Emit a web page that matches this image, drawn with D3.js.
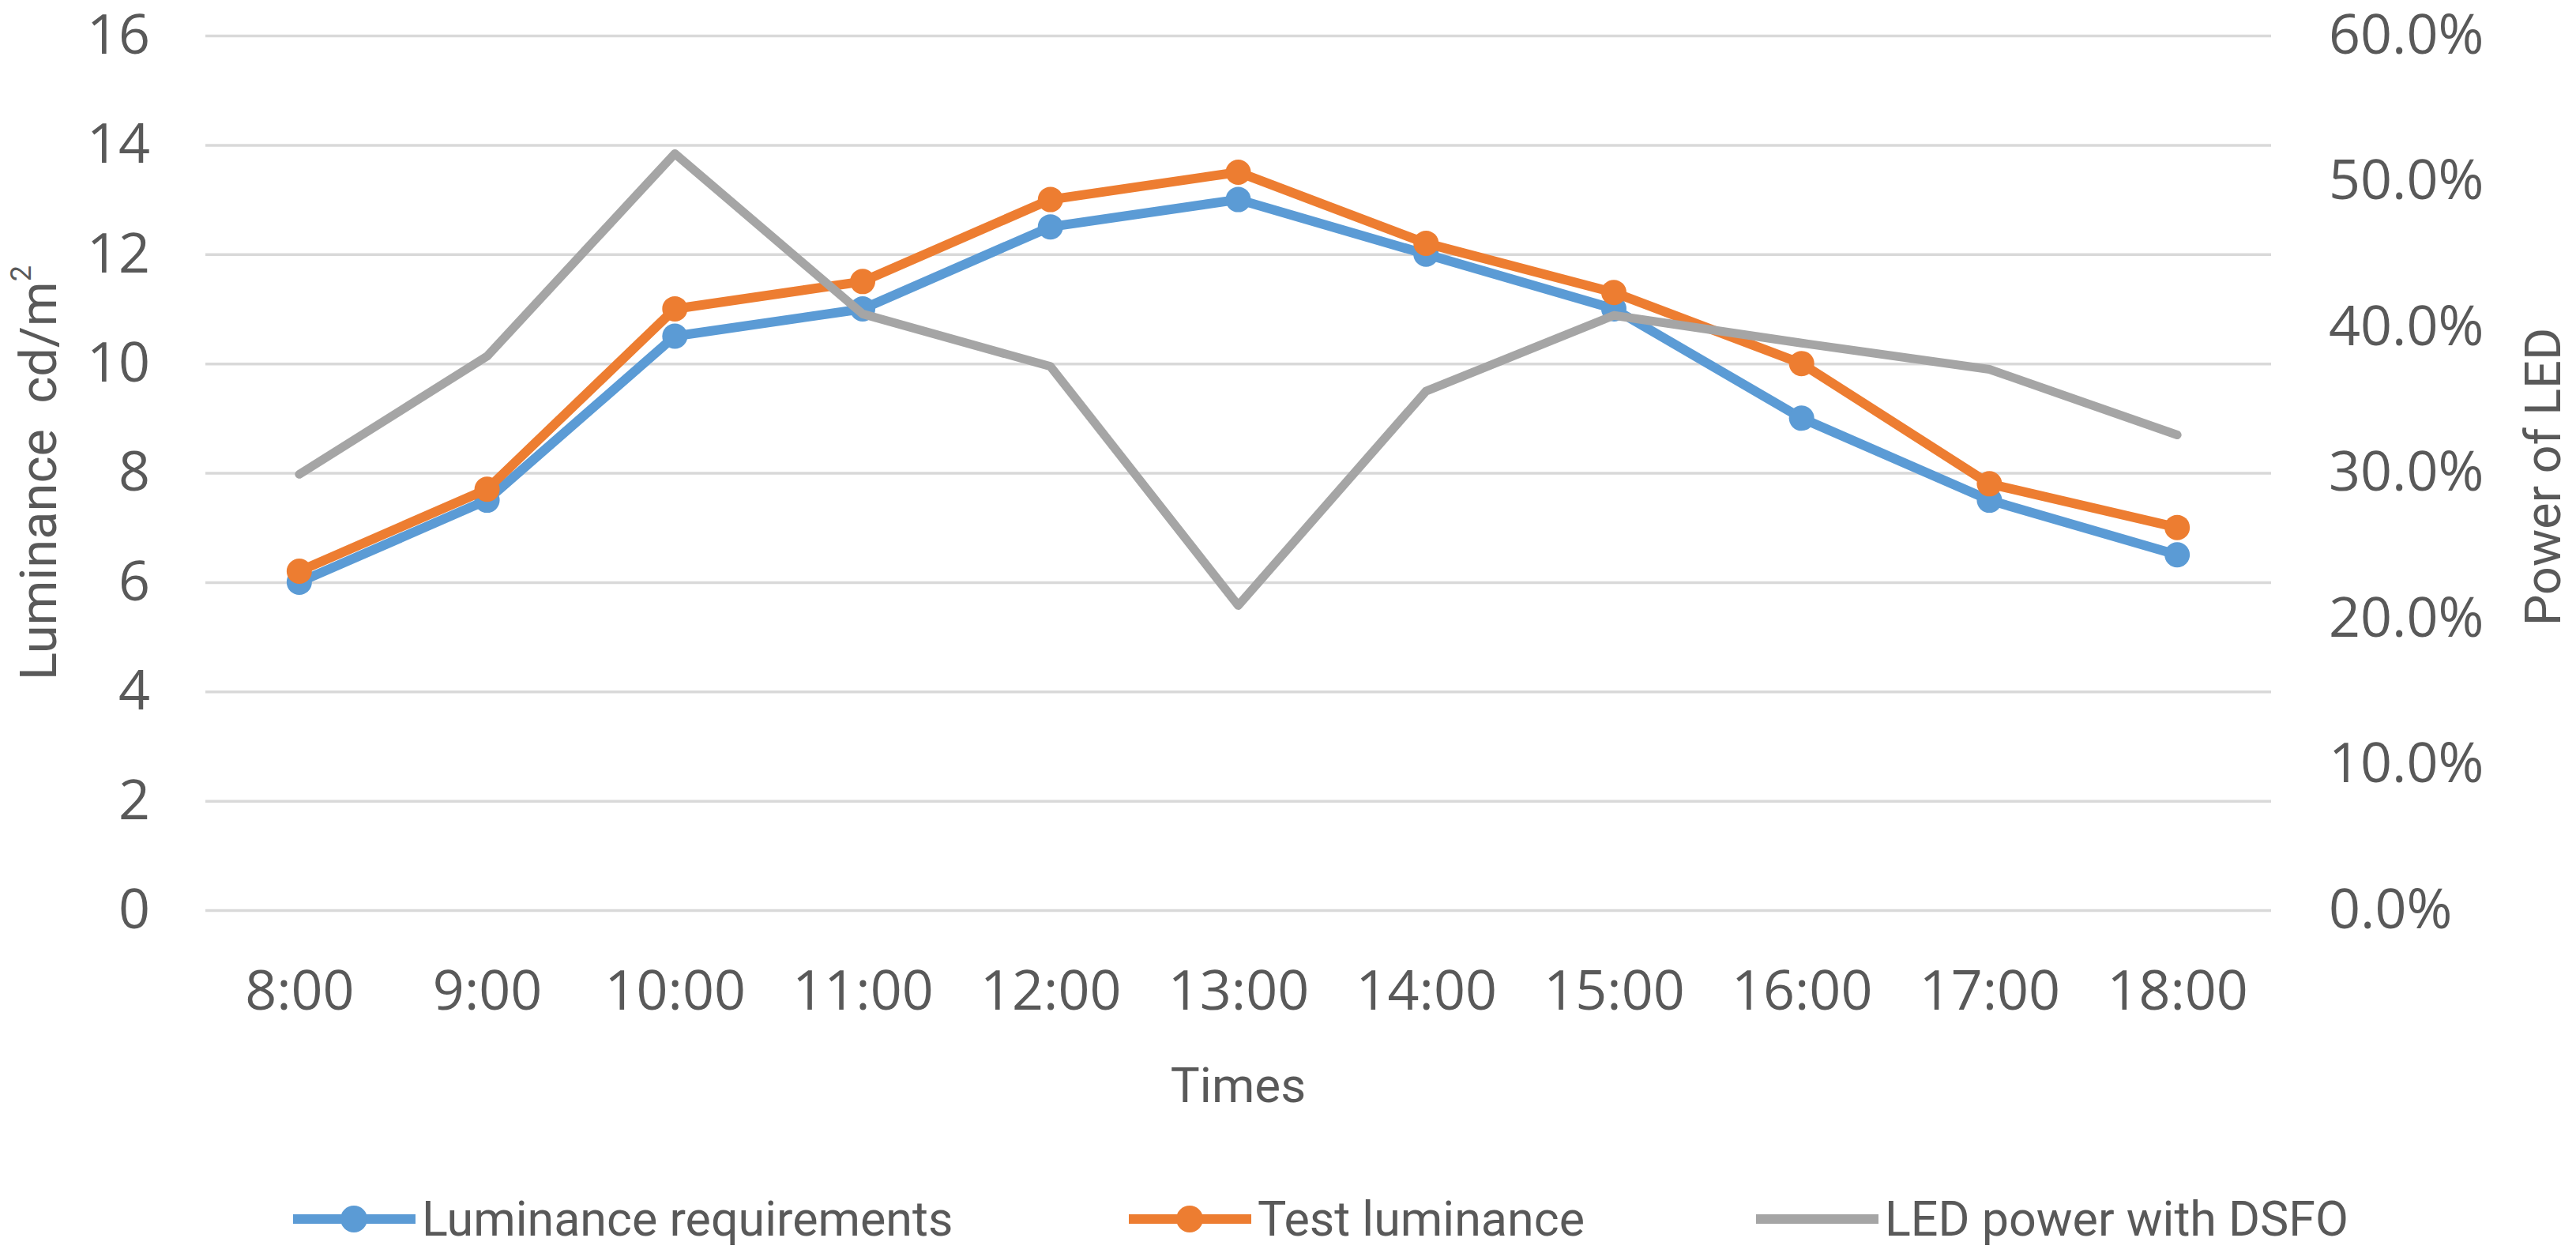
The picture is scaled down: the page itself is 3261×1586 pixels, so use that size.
<!DOCTYPE html>
<html>
<head>
<meta charset="utf-8">
<script src="https://cdn.jsdelivr.net/npm/d3@7"></script>
<style>
  html, body { margin: 0; padding: 0; background: #ffffff; }
  svg { display: block; }
</style>
</head>
<body>
<div id="chart"></div>
<script>
// ---- Data ----
const times = ["8:00", "9:00", "10:00", "11:00", "12:00", "13:00", "14:00", "15:00", "16:00", "17:00", "18:00"];
const luminanceRequirements = [6.0, 7.5, 10.5, 11.0, 12.5, 13.0, 12.0, 11.0, 9.0, 7.5, 6.5];
const testLuminance = [6.2, 7.7, 11.0, 11.5, 13.0, 13.5, 12.2, 11.3, 10.0, 7.8, 7.0];
const ledPower = [0.299, 0.380, 0.519, 0.409, 0.373, 0.209, 0.356, 0.408, 0.389, 0.371, 0.326];
const leftTicks = [0, 2, 4, 6, 8, 10, 12, 14, 16];
const rightTicks = [0, 0.1, 0.2, 0.3, 0.4, 0.5, 0.6];
const seriesNames = ["Luminance requirements", "Test luminance", "LED power with DSFO"];

// ---- Layout ----
const W = 3261, H = 1586;
const plot = { left: 260, right: 2875, top: 45, bottom: 1152 };
const colors = { blue: "#5B9BD5", orange: "#ED7D31", gray: "#A5A5A5", grid: "#D9D9D9", text: "#595959" };
const tickFont = "'Open Sans', sans-serif";
const titleFont = "Roboto, sans-serif";

const svg = d3.select("#chart").append("svg").attr("width", W).attr("height", H);
svg.append("rect").attr("width", W).attr("height", H).attr("fill", "#fff");

const x = d3.scalePoint().domain(times).range([plot.left, plot.right]).padding(0.5);
const yL = d3.scaleLinear().domain([0, 16]).range([plot.bottom, plot.top]);
const yR = d3.scaleLinear().domain([0, 0.6]).range([plot.bottom, plot.top]);

// gridlines
const grid = svg.append("g").attr("transform", `translate(${plot.left},0)`)
  .call(d3.axisLeft(yL).tickValues(leftTicks).tickSize(-(plot.right - plot.left)).tickFormat(""));
grid.select(".domain").remove();
grid.selectAll("line").attr("stroke", colors.grid).attr("stroke-width", 3.5);

// left axis
const gL = svg.append("g").attr("transform", `translate(${plot.left},0)`)
  .call(d3.axisLeft(yL).tickValues(leftTicks).tickSize(0).tickPadding(70));
gL.select(".domain").remove();
gL.selectAll("text").attr("font-family", tickFont).attr("font-size", 70).attr("fill", colors.text);

// right axis
const gR = svg.append("g").attr("transform", `translate(${plot.right},0)`)
  .call(d3.axisRight(yR).tickValues(rightTicks).tickSize(0).tickPadding(73).tickFormat(d3.format(".1%")));
gR.select(".domain").remove();
gR.selectAll("text").attr("font-family", tickFont).attr("font-size", 70).attr("fill", colors.text);

// bottom axis
const gB = svg.append("g").attr("transform", `translate(0,${plot.bottom})`)
  .call(d3.axisBottom(x).tickSize(0));
gB.select(".domain").remove();
gB.selectAll("text").attr("font-family", tickFont).attr("font-size", 70).attr("fill", colors.text)
  .attr("y", 101).attr("dy", "0.35em");

// axis titles
svg.append("text").attr("x", (plot.left + plot.right) / 2).attr("y", 1373)
  .attr("text-anchor", "middle").attr("dominant-baseline", "central")
  .attr("font-family", titleFont).attr("font-size", 62).attr("fill", colors.text).text("Times");

const lt = svg.append("text").attr("transform", `translate(49,${(plot.top + plot.bottom) / 2}) rotate(-90)`)
  .attr("text-anchor", "middle").attr("dominant-baseline", "central")
  .attr("font-family", titleFont).attr("font-size", 65).attr("fill", colors.text)
  .attr("xml:space", "preserve").style("white-space", "pre");
lt.append("tspan").text("Luminance  cd/m");
lt.append("tspan").attr("font-size", 36).attr("dy", -22).text("2");

svg.append("text").attr("transform", `translate(3219,${(plot.top + plot.bottom) / 2 + 5}) rotate(-90)`)
  .attr("text-anchor", "middle").attr("dominant-baseline", "central")
  .attr("font-family", titleFont).attr("font-size", 63).attr("fill", colors.text).text("Power of LED");

// series
const lineL = d3.line().x((d, i) => x(times[i])).y(d => yL(d));
const lineR = d3.line().x((d, i) => x(times[i])).y(d => yR(d));

function drawSeries(values, line, yScale, color, markers, width) {
  svg.append("path").datum(values).attr("d", line).attr("fill", "none")
    .attr("stroke", color).attr("stroke-width", width).attr("stroke-linejoin", "round").attr("stroke-linecap", "round");
  if (markers) {
    svg.append("g").selectAll("circle").data(values).join("circle")
      .attr("cx", (d, i) => x(times[i])).attr("cy", d => yScale(d)).attr("r", 16).attr("fill", color);
  }
}
drawSeries(luminanceRequirements, lineL, yL, colors.blue, true, 12);
drawSeries(testLuminance, lineL, yL, colors.orange, true, 12);
drawSeries(ledPower, lineR, yR, colors.gray, false, 11);

// legend
const legendItems = [
  { name: seriesNames[0], color: colors.blue, marker: true, x0: 371 },
  { name: seriesNames[1], color: colors.orange, marker: true, x0: 1429 },
  { name: seriesNames[2], color: colors.gray, marker: false, x0: 2223 }
];
const ly = 1543;
const lg = svg.append("g").selectAll("g").data(legendItems).join("g");
lg.append("line").attr("x1", d => d.x0).attr("x2", d => d.x0 + 155).attr("y1", ly).attr("y2", ly)
  .attr("stroke", d => d.color).attr("stroke-width", 12);
lg.filter(d => d.marker).append("circle").attr("cx", d => d.x0 + 77).attr("cy", ly).attr("r", 17).attr("fill", d => d.color);
lg.append("text").attr("x", d => d.x0 + 163).attr("y", ly).attr("dominant-baseline", "central")
  .attr("font-family", titleFont).attr("font-size", 61).attr("fill", colors.text).text(d => d.name);
</script>
</body>
</html>
